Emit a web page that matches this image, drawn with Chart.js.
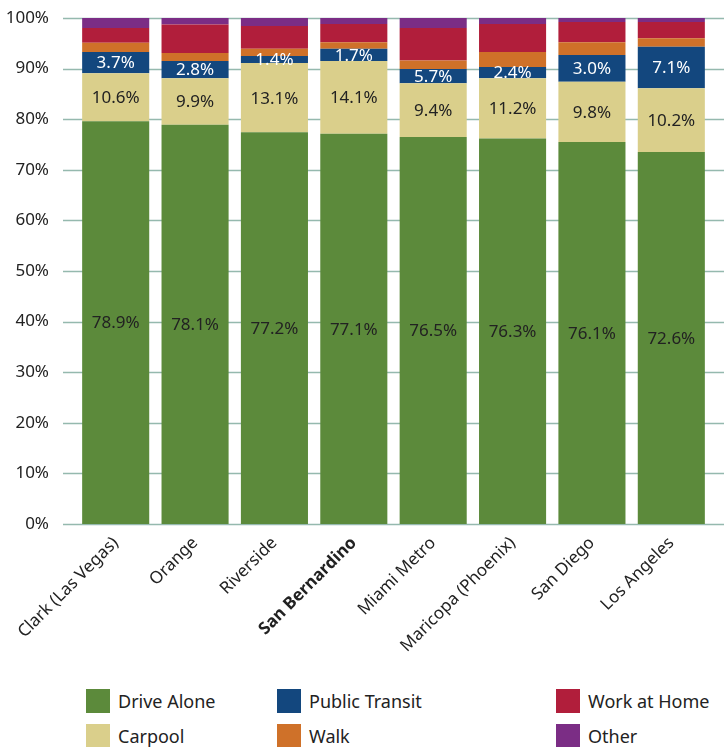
<!DOCTYPE html>
<html>
<head>
<meta charset="utf-8">
<script src="https://cdn.jsdelivr.net/npm/chart.js@4"></script>
<style>
  html, body { margin: 0; padding: 0; background: #fff; }
  body { width: 724px; height: 747px; position: relative; overflow: hidden; font-family: "Noto Sans", "Open Sans", sans-serif; }
  #wrap { position: absolute; left: 0; top: 0; width: 724px; height: 680px; }
  #legend { position: absolute; left: 86px; top: 689px; display: grid; grid-auto-flow: column;
    grid-template-rows: 24px 24px; row-gap: 11px; grid-template-columns: 191px 279px 170px; }
  .item { display: flex; align-items: center; font-size: 18px; color: #222; white-space: nowrap; }
  .box { width: 24px; height: 24px; margin-right: 8px; flex: none; }
</style>
</head>
<body>
<div id="wrap"><canvas id="chart" width="724" height="680"></canvas></div>
<div id="legend"></div>
<script>
// bar segment heights as drawn, label texts as printed on the bars
const categories = ["Clark (Las Vegas)", "Orange", "Riverside", "San Bernardino", "Miami Metro", "Maricopa (Phoenix)", "San Diego", "Los Angeles"];
const driveAlone = [79.6, 78.9, 77.4, 77.1, 76.5, 76.2, 75.5, 73.5];
const carpool = [9.5, 9.2, 13.7, 14.4, 10.6, 11.9, 11.9, 12.6];
const publicTransit = [4.2, 3.4, 1.4, 2.4, 2.8, 2.2, 5.3, 8.2];
const walk = [1.8, 1.6, 1.4, 1.3, 1.7, 3.0, 2.5, 1.7];
const workAtHome = [2.9, 5.6, 4.5, 3.6, 6.4, 5.5, 4.0, 3.2];
const other = [2.0, 1.3, 1.6, 1.2, 2.0, 1.2, 0.8, 0.8];
const driveAloneLabels = ["78.9%", "78.1%", "77.2%", "77.1%", "76.5%", "76.3%", "76.1%", "72.6%"];
const carpoolLabels = ["10.6%", "9.9%", "13.1%", "14.1%", "9.4%", "11.2%", "9.8%", "10.2%"];
const transitLabels = ["3.7%", "2.8%", "1.4%", "1.7%", "5.7%", "2.4%", "3.0%", "7.1%"];
const yTicks = [0, 10, 20, 30, 40, 50, 60, 70, 80, 90, 100];

const FONT = '"Noto Sans", "Open Sans", sans-serif';

function ds(label, data, color, texts, textColor) {
  return { label: label, data: data, backgroundColor: color, borderWidth: 0,
    barPercentage: 0.845, categoryPercentage: 1, texts: texts, textColor: textColor };
}

const datasets = [
  ds("Drive Alone", driveAlone, "#5c8a3b", driveAloneLabels, "#222"),
  ds("Carpool", carpool, "#dacf8b", carpoolLabels, "#222"),
  ds("Public Transit", publicTransit, "#13477e", transitLabels, "#fff"),
  ds("Walk", walk, "#cf7129", null, null),
  ds("Work at Home", workAtHome, "#b11e3b", null, null),
  ds("Other", other, "#7b2d85", null, null),
];

// grid lines run from the tick mark to the right edge, behind the bars
const gridPlugin = {
  id: "gridLines",
  beforeDatasetsDraw(chart) {
    const ctx = chart.ctx, y = chart.scales.y;
    ctx.save();
    ctx.strokeStyle = "#95b9ae";
    ctx.lineWidth = 1.5;
    yTicks.forEach(v => {
      const py = Math.round(y.getPixelForValue(v)) + 0.5;
      ctx.beginPath();
      ctx.moveTo(chart.chartArea.left - 13, py);
      ctx.lineTo(chart.width, py);
      ctx.stroke();
    });
    ctx.restore();
  },
};

const labelPlugin = {
  id: "segLabels",
  afterDatasetsDraw(chart) {
    const ctx = chart.ctx;
    ctx.save();
    ctx.font = "17px " + FONT;
    ctx.textAlign = "center";
    ctx.textBaseline = "middle";
    chart.data.datasets.forEach((d, i) => {
      if (!d.texts) return;
      chart.getDatasetMeta(i).data.forEach((bar, j) => {
        ctx.fillStyle = d.textColor;
        ctx.fillText(d.texts[j], bar.x, (bar.y + bar.base) / 2 + 1);
      });
    });
    ctx.restore();
  },
};

new Chart(document.getElementById("chart"), {
  type: "bar",
  data: { labels: categories, datasets: datasets },
  options: {
    responsive: false,
    animation: false,
    layout: { padding: { top: 18, right: 13, left: 0, bottom: 0 } },
    plugins: { legend: { display: false }, tooltip: { enabled: false } },
    scales: {
      x: {
        stacked: true,
        grid: { display: false },
        border: { display: false },
        ticks: {
          color: "#222",
          padding: 1,
          minRotation: 45,
          maxRotation: 45,
          font: (c) => ({ family: FONT, size: 17, weight: c.index === 3 ? "bold" : "normal" }),
        },
        afterFit: (s) => { s.height = 156; },
      },
      y: {
        stacked: true,
        min: 0,
        max: 100,
        grid: { display: false },
        border: { display: false },
        afterBuildTicks: (s) => { s.ticks = yTicks.map(v => ({ value: v })); },
        ticks: {
          color: "#222",
          padding: 19,
          font: { family: FONT, size: 17 },
          callback: (v) => v + "%",
        },
        afterFit: (s) => { s.width = 76; s.paddingTop = 0; s.paddingBottom = 0; },
      },
    },
  },
  plugins: [gridPlugin, labelPlugin],
});

// legend laid out in columns like the original
const legend = document.getElementById("legend");
datasets.forEach(d => {
  const it = document.createElement("div");
  it.className = "item";
  it.innerHTML = '<span class="box" style="background:' + d.backgroundColor + '"></span>' + d.label;
  legend.appendChild(it);
});
</script>
</body>
</html>
